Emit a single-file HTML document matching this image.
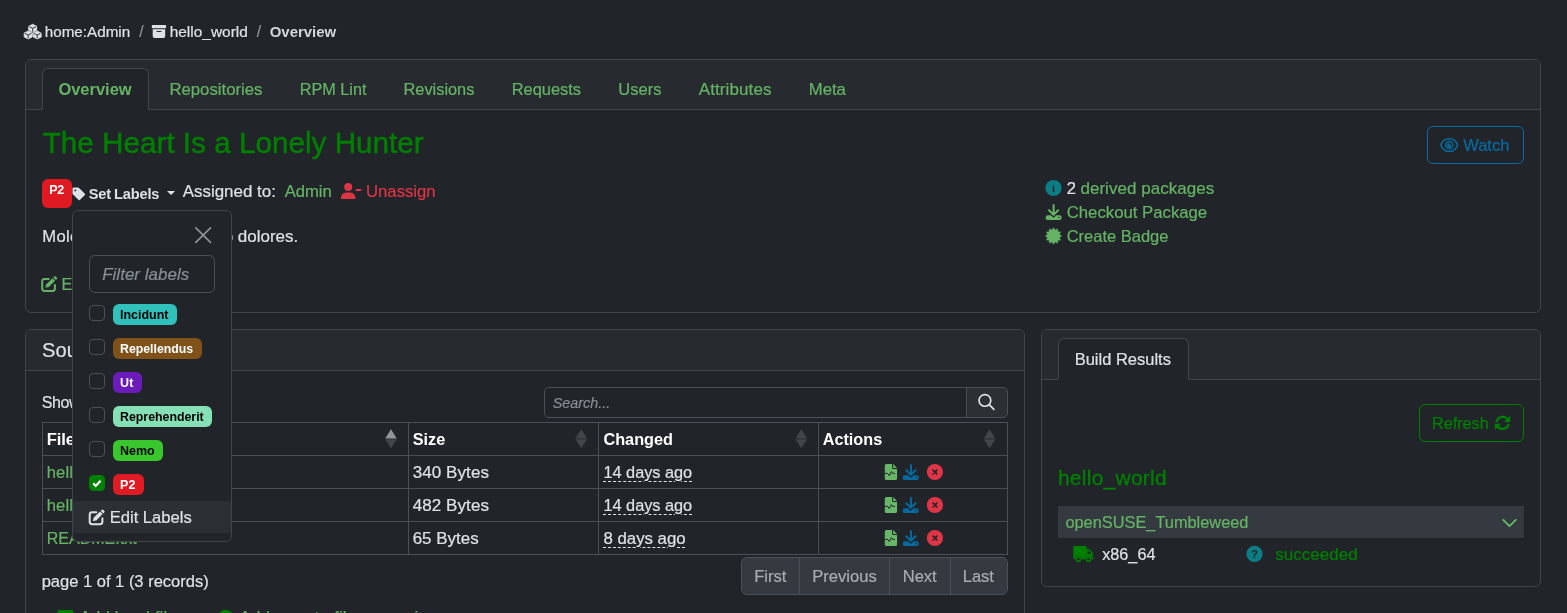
<!DOCTYPE html>
<html lang="en"><head><meta charset="utf-8"><title>hello_world - Overview</title>
<style>
html,body{margin:0;padding:0;background:#212529;}
body{width:1567px;height:613px;overflow:hidden;position:relative;font-family:"Liberation Sans",sans-serif;color:#dee2e6;}
#root{position:absolute;left:0;top:0;width:1567px;height:613px;overflow:hidden;background:#212529;}
.t{position:absolute;white-space:nowrap;line-height:1;margin:0;padding:0;font-weight:400;text-decoration:none;display:block;}
.r{-webkit-text-stroke:0.2px;}
.abbr{text-decoration:underline dashed;text-decoration-thickness:1px;text-underline-offset:3px;}
.b{position:absolute;box-sizing:border-box;}
.card{border:1px solid #42464a;border-radius:6px;background:#212529;}
.cap{background:#272b2f;border-bottom:1px solid #42464a;border-radius:5px 5px 0 0;}
.tab{border:1px solid #42464a;border-bottom:1px solid #212529;border-radius:6px 6px 0 0;background:#212529;}
.line{position:absolute;background:#495057;}
.cb{border:1px solid #495057;border-radius:4px;background:#212529;width:16px;height:16px;}
.bd{border-radius:6px;height:21px;}
svg{position:absolute;overflow:visible;}
</style></head><body><div id="root">
<div class="b card" style="left:25px;top:59px;width:1516px;height:254px;"></div>
<div class="b cap" style="left:26px;top:60px;width:1514px;height:50px;"></div>
<div class="b tab" style="left:42px;top:68px;width:107px;height:42px;"></div>
<div class="b card" style="left:25px;top:329px;width:1000px;height:320px;"></div>
<div class="b cap" style="left:26px;top:330px;width:998px;height:41px;"></div>
<div class="b card" style="left:1041px;top:329px;width:500px;height:258px;"></div>
<div class="b cap" style="left:1042px;top:330px;width:498px;height:50px;"></div>
<div class="b tab" style="left:1058px;top:338px;width:131px;height:42px;"></div>
<div class="b " style="left:42px;top:179px;width:30px;height:29px;background:#e01a22;border-radius:6px;"></div>
<div class="b " style="left:1427px;top:126px;width:97px;height:38px;border:1px solid #086ba3;border-radius:6px;"></div>
<div class="b " style="left:1419px;top:404px;width:105px;height:38px;border:1px solid #008000;border-radius:6px;"></div>
<div class="b " style="left:544px;top:387px;width:424px;height:31px;border:1px solid #495057;border-radius:5px 0 0 5px;"></div>
<div class="b " style="left:966px;top:387px;width:42px;height:31px;border:1px solid #495057;border-radius:0 5px 5px 0;background:#2b3035;"></div>
<div class="line" style="left:42px;top:422px;width:966px;height:1px;background:#495057"></div>
<div class="line" style="left:42px;top:455px;width:966px;height:1px;background:#495057"></div>
<div class="line" style="left:42px;top:488px;width:966px;height:1px;background:#495057"></div>
<div class="line" style="left:42px;top:521px;width:966px;height:1px;background:#495057"></div>
<div class="line" style="left:42px;top:554px;width:966px;height:1px;background:#495057"></div>
<div class="line" style="left:42px;top:422px;width:1px;height:133px;background:#495057"></div>
<div class="line" style="left:408px;top:422px;width:1px;height:133px;background:#495057"></div>
<div class="line" style="left:598px;top:422px;width:1px;height:133px;background:#495057"></div>
<div class="line" style="left:818px;top:422px;width:1px;height:133px;background:#495057"></div>
<div class="line" style="left:1007px;top:422px;width:1px;height:133px;background:#495057"></div>
<div class="b " style="left:741px;top:557px;width:267px;height:38px;border:1px solid #495057;border-radius:6px;background:#343a40;"></div>
<div class="line" style="left:799px;top:558px;width:1px;height:36px;background:#495057"></div>
<div class="line" style="left:889px;top:558px;width:1px;height:36px;background:#495057"></div>
<div class="line" style="left:950px;top:558px;width:1px;height:36px;background:#495057"></div>
<div class="b " style="left:1058px;top:506px;width:466px;height:32px;background:#343a40;"></div>
<span class="t r" style="left:44.70px;top:24.02px;font-size:15.24px;color:#dee2e6;letter-spacing:-0.003px;">home:Admin</span>
<span class="t r" style="left:139.30px;top:24.02px;font-size:15.6px;color:#8d949b;">/</span>
<span class="t r" style="left:169.70px;top:24.02px;font-size:15.44px;color:#dee2e6;letter-spacing:0.001px;">hello_world</span>
<span class="t r" style="left:256.70px;top:24.02px;font-size:15.6px;color:#8d949b;">/</span>
<span class="t" style="left:269.70px;top:25.02px;font-size:14.96px;color:#d3d7db;font-weight:700;letter-spacing:-0.002px;">Overview</span>
<a class="t" style="left:58.40px;top:81.02px;font-size:16.47px;color:#66b366;font-weight:700;letter-spacing:0.004px;">Overview</a>
<a class="t r" style="left:169.40px;top:82.02px;font-size:16.76px;color:#66b366;letter-spacing:-0.001px;">Repositories</a>
<a class="t r" style="left:299.80px;top:81.02px;font-size:16.23px;color:#66b366;letter-spacing:-0.000px;">RPM Lint</a>
<a class="t r" style="left:403.50px;top:81.02px;font-size:16.37px;color:#66b366;letter-spacing:-0.003px;">Revisions</a>
<a class="t r" style="left:511.70px;top:81.02px;font-size:16.44px;color:#66b366;letter-spacing:-0.008px;">Requests</a>
<a class="t r" style="left:618.30px;top:82.02px;font-size:16.52px;color:#66b366;letter-spacing:-0.010px;">Users</a>
<a class="t r" style="left:698.70px;top:81.02px;font-size:17.0px;color:#66b366;letter-spacing:0.110px;">Attributes</a>
<a class="t r" style="left:808.70px;top:82.02px;font-size:16.74px;color:#66b366;letter-spacing:-0.001px;">Meta</a>
<h3 class="t" style="left:42.70px;top:128.02px;font-size:29.68px;color:#008000;letter-spacing:0.001px;-webkit-text-stroke:0.4px #008000;">The Heart Is a Lonely Hunter</h3>
<span class="t" style="left:49.20px;top:184.02px;font-size:12.48px;color:#fff;font-weight:700;letter-spacing:-0.266px;">P2</span>
<span class="t" style="left:88.70px;top:187.02px;font-size:14.6px;color:#dee2e6;font-weight:700;letter-spacing:-0.156px;word-spacing:-0.8px;">Set Labels</span>
<span class="t r" style="left:182.70px;top:184.02px;font-size:16.96px;color:#dee2e6;letter-spacing:0.003px;">Assigned to:</span>
<a class="t r" style="left:284.70px;top:184.02px;font-size:16.6px;color:#66b366;letter-spacing:-0.012px;">Admin</a>
<a class="t r" style="left:365.95px;top:184.02px;font-size:16.75px;color:#dc3545;letter-spacing:-0.013px;">Unassign</a>
<span class="t r" style="left:42.20px;top:229.02px;font-size:16.64px;color:#dee2e6;letter-spacing:0.350px;">Molestiae aut explicab</span>
<span class="t r" style="left:223.70px;top:228.02px;font-size:17.0px;color:#dee2e6;letter-spacing:-0.008px;">o dolores.</span>
<a class="t r" style="left:61.60px;top:277.02px;font-size:16.0px;color:#66b366;">Edit</a>
<span class="t r" style="left:1066.70px;top:181.02px;font-size:16.64px;color:#dee2e6;">2</span>
<a class="t r" style="left:1080.45px;top:180.02px;font-size:17.0px;color:#66b366;letter-spacing:0.032px;">derived packages</a>
<a class="t r" style="left:1066.70px;top:205.02px;font-size:16.75px;color:#66b366;letter-spacing:-0.007px;">Checkout Package</a>
<a class="t r" style="left:1066.70px;top:228.02px;font-size:16.5px;color:#66b366;letter-spacing:-0.007px;">Create Badge</a>
<a class="t r" style="left:1463.20px;top:138.02px;font-size:16.55px;color:#086ba3;">Watch</a>
<h5 class="t r" style="left:42.00px;top:340.02px;font-size:20.07px;color:#dee2e6;letter-spacing:0.100px;">Source Files</h5>
<span class="t r" style="left:41.70px;top:395.02px;font-size:16.0px;color:#dee2e6;letter-spacing:-0.400px;">Show</span>
<span class="t r" style="left:552.70px;top:396.02px;font-size:14.38px;color:#878e95;font-style:italic;letter-spacing:-0.004px;">Search...</span>
<b class="t" style="left:46.70px;top:432.02px;font-size:16.64px;color:#fff;font-weight:700;letter-spacing:-0.100px;">File</b>
<b class="t" style="left:412.70px;top:431.02px;font-size:16.25px;color:#fff;font-weight:700;letter-spacing:-0.010px;">Size</b>
<b class="t" style="left:603.45px;top:431.02px;font-size:16.26px;color:#fff;font-weight:700;letter-spacing:-0.003px;">Changed</b>
<b class="t" style="left:822.70px;top:431.02px;font-size:16.24px;color:#fff;font-weight:700;letter-spacing:-0.008px;">Actions</b>
<a class="t r" style="left:46.70px;top:465.02px;font-size:16.64px;color:#66b366;letter-spacing:0.100px;">hello_world.spec</a>
<span class="t r" style="left:412.70px;top:464.02px;font-size:17.0px;color:#dee2e6;letter-spacing:0.080px;">340 Bytes</span>
<span class="t abbr r" style="left:603.45px;top:464.02px;font-size:16.3px;color:#dee2e6;letter-spacing:0.003px;">14 days ago</span>
<a class="t r" style="left:46.70px;top:498.02px;font-size:16.64px;color:#66b366;letter-spacing:0.100px;">hello_world.tar.gz</a>
<span class="t r" style="left:412.70px;top:497.02px;font-size:17.0px;color:#dee2e6;letter-spacing:0.080px;">482 Bytes</span>
<span class="t abbr r" style="left:603.45px;top:497.02px;font-size:16.3px;color:#dee2e6;letter-spacing:0.003px;">14 days ago</span>
<a class="t r" style="left:46.70px;top:530.02px;font-size:16.05px;color:#66b366;letter-spacing:0.003px;">README.txt</a>
<span class="t r" style="left:412.70px;top:531.02px;font-size:16.97px;color:#dee2e6;letter-spacing:0.013px;">65 Bytes</span>
<span class="t abbr r" style="left:603.45px;top:531.02px;font-size:16.83px;color:#dee2e6;letter-spacing:-0.010px;">8 days ago</span>
<span class="t r" style="left:41.70px;top:574.02px;font-size:16.52px;color:#dee2e6;letter-spacing:-0.004px;">page 1 of 1 (3 records)</span>
<span class="t r" style="left:754.20px;top:569.02px;font-size:16.6px;color:#a9adb2;letter-spacing:-0.004px;">First</span>
<span class="t r" style="left:812.20px;top:569.02px;font-size:16.59px;color:#a9adb2;">Previous</span>
<span class="t r" style="left:902.70px;top:569.02px;font-size:16.55px;color:#a9adb2;">Next</span>
<span class="t r" style="left:962.70px;top:569.02px;font-size:16.54px;color:#a9adb2;">Last</span>
<a class="t r" style="left:79.70px;top:610.02px;font-size:16.64px;color:#66b366;letter-spacing:0.200px;">Add local files</a>
<a class="t r" style="left:239.40px;top:609.02px;font-size:17.0px;color:#66b366;letter-spacing:0.182px;">Add remote file or service</a>
<span class="t r" style="left:1074.70px;top:351.02px;font-size:16.51px;color:#dee2e6;letter-spacing:-0.004px;">Build Results</span>
<span class="t r" style="left:1432.10px;top:415.02px;font-size:16.18px;color:#008000;letter-spacing:-0.007px;">Refresh</span>
<h5 class="t" style="left:1057.95px;top:467.02px;font-size:21.0px;color:#008000;letter-spacing:0.252px;-webkit-text-stroke:0.3px #008000;">hello_world</h5>
<a class="t r" style="left:1065.45px;top:514.02px;font-size:16.36px;color:#66b366;letter-spacing:-0.005px;">openSUSE_Tumbleweed</a>
<span class="t r" style="left:1102.20px;top:546.02px;font-size:16.24px;color:#dee2e6;letter-spacing:-0.003px;">x86_64</span>
<span class="t r" style="left:1275.20px;top:546.02px;font-size:17.0px;color:#008000;letter-spacing:0.033px;">succeeded</span><svg style="left:0;top:0" width="1567" height="613" viewBox="0 0 1567 613"><polygon points="32.70,24.30 36.70,26.30 36.70,30.30 32.70,32.30 28.70,30.30 28.70,26.30" fill="#dee2e6" stroke="#dee2e6" stroke-width="0.8" stroke-linejoin="round"/><path d="M32.70 31.70V28.30L29.40 26.70M32.70 28.30L36.00 26.70" stroke="#212529" stroke-width="0.9" fill="none"/><polygon points="28.20,31.00 32.20,33.00 32.20,37.00 28.20,39.00 24.20,37.00 24.20,33.00" fill="#dee2e6" stroke="#dee2e6" stroke-width="0.8" stroke-linejoin="round"/><path d="M28.20 38.40V35.00L24.90 33.40M28.20 35.00L31.50 33.40" stroke="#212529" stroke-width="0.9" fill="none"/><polygon points="37.20,31.00 41.20,33.00 41.20,37.00 37.20,39.00 33.20,37.00 33.20,33.00" fill="#dee2e6" stroke="#dee2e6" stroke-width="0.8" stroke-linejoin="round"/><path d="M37.20 38.40V35.00L33.90 33.40M37.20 35.00L40.50 33.40" stroke="#212529" stroke-width="0.9" fill="none"/><rect x="151.8" y="25.0" width="14.3" height="3.3" rx="0.8" fill="#dee2e6"/><path d="M152.70000000000002 29.2h12.5v7.1a1.7 1.7 0 0 1 -1.7 1.7h-9.1a1.7 1.7 0 0 1 -1.7 -1.7z" fill="#dee2e6"/><rect x="156.4" y="30.9" width="5.1" height="1.2" rx="0.6" fill="#212529"/><path d="M72.5 188.7a1.1 1.1 0 0 1 1.1 -1.1h4.6a1.2 1.2 0 0 1 .85 .35l5.6 5.6a1.2 1.2 0 0 1 0 1.7l-4.6 4.6a1.2 1.2 0 0 1 -1.7 0l-5.5 -5.5a1.2 1.2 0 0 1 -.35 -.85z" fill="#dee2e6"/><circle cx="75.3" cy="190.4" r="0.95" fill="#212529"/><path d="M167.0 191.0H175.1L171.05 195.1z" fill="#dee2e6"/><circle cx="348.2" cy="187" r="4.0" fill="#dc3545"/><path d="M341 198.9v-1.3a5.2 5.2 0 0 1 5.2 -5.2h4a5.2 5.2 0 0 1 5.2 5.2v1.3z" fill="#dc3545"/><rect x="355.6" y="189" width="5.7" height="1.9" rx="0.4" fill="#dc3545"/><path d="M48.800000000000004 278.90000000000003H44.6a2.4 2.4 0 0 0 -2.4 2.4v7.2a2.4 2.4 0 0 0 2.4 2.4h7.9a2.4 2.4 0 0 0 2.4 -2.4V284.90000000000003" fill="none" stroke="#66b366" stroke-width="2" stroke-linecap="round"/><path d="M45.300000000000004 287.8l.9 -3.3 6.3 -6.3 2.6 2.6 -6.3 6.3z" fill="#66b366"/><path d="M53.2 277.5l.9 -.9a1.3 1.3 0 0 1 1.8 0l.8 .8a1.3 1.3 0 0 1 0 1.8l-.9 .9z" fill="#66b366"/><circle cx="1053.5" cy="188.0" r="8.1" fill="#0c7d85"/><text x="1053.5" y="191.8" text-anchor="middle" font-family='"Liberation Serif",serif' font-weight="700" font-size="11" fill="#212529">i</text><path d="M1053.6 205.1V214.5M1049.0 210.2L1053.6 214.9L1058.1999999999998 210.2" stroke="#66b366" stroke-width="2.0" fill="none" stroke-linecap="round" stroke-linejoin="round"/><path d="M1045.6 217.2a2 2 0 0 1 2 -2h3.2l2.8 2.6 2.8 -2.6h3.2a2 2 0 0 1 2 2v.8a2 2 0 0 1 -2 2h-12.0a2 2 0 0 1 -2 -2z" fill="#66b366"/><circle cx="1059.0" cy="217.6" r="0.75" fill="#212529"/><polygon points="1053.50,227.80 1055.08,230.11 1057.60,228.90 1057.81,231.69 1060.60,231.90 1059.39,234.42 1061.70,236.00 1059.39,237.58 1060.60,240.10 1057.81,240.31 1057.60,243.10 1055.08,241.89 1053.50,244.20 1051.92,241.89 1049.40,243.10 1049.19,240.31 1046.40,240.10 1047.61,237.58 1045.30,236.00 1047.61,234.42 1046.40,231.90 1049.19,231.69 1049.40,228.90 1051.92,230.11" fill="#66b366" stroke="#66b366" stroke-width="0.5" stroke-linejoin="round"/><path d="M1440.8 145.0C1443.7 136.6 1454.7 136.6 1457.6000000000001 145.0C1454.7 153.4 1443.7 153.4 1440.8 145.0z" fill="none" stroke="#086ba3" stroke-width="1.5"/><circle cx="1449.2" cy="145.0" r="3.5" fill="none" stroke="#086ba3" stroke-width="1.5"/><path d="M1447.3 145.2a1.9 1.9 0 0 1 1.9 -2.1a1.2 1.2 0 0 0 1.4 1.5a1.9 1.9 0 1 1 -3.3 .6z" fill="#086ba3"/><circle cx="984.9" cy="400.4" r="5.85" fill="none" stroke="#dee2e6" stroke-width="1.7"/><path d="M989.2 404.7L993.9 409.4" stroke="#dee2e6" stroke-width="1.8" stroke-linecap="round"/><path d="M385.2 438.4H396.8L391.0 429.3z" fill="#92969a"/><path d="M385.2 439.2H396.8L391.0 448.3z" fill="#42464a"/><path d="M575.5 438.4H587.1L581.3 429.3z" fill="#42464a"/><path d="M575.5 439.2H587.1L581.3 448.3z" fill="#42464a"/><path d="M795.5 438.4H807.1L801.3 429.3z" fill="#42464a"/><path d="M795.5 439.2H807.1L801.3 448.3z" fill="#42464a"/><path d="M983.8 438.4H995.4L989.5999999999999 429.3z" fill="#42464a"/><path d="M983.8 439.2H995.4L989.5999999999999 448.3z" fill="#42464a"/><path d="M886.5 463.9h5.6v4.0a1 1 0 0 0 1 1h4.0v9.5a1.7 1.7 0 0 1 -1.7 1.7h-8.9a1.7 1.7 0 0 1 -1.7 -1.7v-12.8a1.7 1.7 0 0 1 1.7 -1.7z" fill="#68b668"/><path d="M893.0999999999999 464.0l3.9 3.9h-3.9z" fill="#68b668"/><path d="M884.8 473.4h2.9l1.6 2.2 2.1 -4 1.2 1.8h2.3" fill="none" stroke="#212529" stroke-width="1" stroke-linejoin="round"/><path d="M910.9 465.09999999999997V474.49999999999994M906.3 470.2L910.9 474.9L915.5 470.2" stroke="#066aa1" stroke-width="2.0" fill="none" stroke-linecap="round" stroke-linejoin="round"/><path d="M902.8 477.2a2 2 0 0 1 2 -2h3.2l2.8 2.6 2.8 -2.6h3.2a2 2 0 0 1 2 2v.8a2 2 0 0 1 -2 2h-12.2a2 2 0 0 1 -2 -2z" fill="#066aa1"/><circle cx="916.3" cy="477.59999999999997" r="0.75" fill="#212529"/><circle cx="934.9" cy="472.0" r="8.1" fill="#e03547"/><path d="M933.0 470.1l3.8 3.8M936.8 470.1l-3.8 3.8" stroke="#212529" stroke-width="1.6" stroke-linecap="round"/><path d="M886.5 496.9h5.6v4.0a1 1 0 0 0 1 1h4.0v9.5a1.7 1.7 0 0 1 -1.7 1.7h-8.9a1.7 1.7 0 0 1 -1.7 -1.7v-12.8a1.7 1.7 0 0 1 1.7 -1.7z" fill="#68b668"/><path d="M893.0999999999999 497.0l3.9 3.9h-3.9z" fill="#68b668"/><path d="M884.8 506.4h2.9l1.6 2.2 2.1 -4 1.2 1.8h2.3" fill="none" stroke="#212529" stroke-width="1" stroke-linejoin="round"/><path d="M910.9 498.09999999999997V507.49999999999994M906.3 503.2L910.9 507.9L915.5 503.2" stroke="#066aa1" stroke-width="2.0" fill="none" stroke-linecap="round" stroke-linejoin="round"/><path d="M902.8 510.2a2 2 0 0 1 2 -2h3.2l2.8 2.6 2.8 -2.6h3.2a2 2 0 0 1 2 2v.8a2 2 0 0 1 -2 2h-12.2a2 2 0 0 1 -2 -2z" fill="#066aa1"/><circle cx="916.3" cy="510.59999999999997" r="0.75" fill="#212529"/><circle cx="934.9" cy="505.0" r="8.1" fill="#e03547"/><path d="M933.0 503.1l3.8 3.8M936.8 503.1l-3.8 3.8" stroke="#212529" stroke-width="1.6" stroke-linecap="round"/><path d="M886.5 529.9h5.6v4.0a1 1 0 0 0 1 1h4.0v9.5a1.7 1.7 0 0 1 -1.7 1.7h-8.9a1.7 1.7 0 0 1 -1.7 -1.7v-12.8a1.7 1.7 0 0 1 1.7 -1.7z" fill="#68b668"/><path d="M893.0999999999999 530.0l3.9 3.9h-3.9z" fill="#68b668"/><path d="M884.8 539.4h2.9l1.6 2.2 2.1 -4 1.2 1.8h2.3" fill="none" stroke="#212529" stroke-width="1" stroke-linejoin="round"/><path d="M910.9 531.1V540.5M906.3 536.2L910.9 540.9L915.5 536.2" stroke="#066aa1" stroke-width="2.0" fill="none" stroke-linecap="round" stroke-linejoin="round"/><path d="M902.8 543.2a2 2 0 0 1 2 -2h3.2l2.8 2.6 2.8 -2.6h3.2a2 2 0 0 1 2 2v.8a2 2 0 0 1 -2 2h-12.2a2 2 0 0 1 -2 -2z" fill="#066aa1"/><circle cx="916.3" cy="543.6" r="0.75" fill="#212529"/><circle cx="934.9" cy="538.0" r="8.1" fill="#e03547"/><path d="M933.0 536.1l3.8 3.8M936.8 536.1l-3.8 3.8" stroke="#212529" stroke-width="1.6" stroke-linecap="round"/><path d="M1496.56 422.06A6.0 6.0 0 0 1 1507.59 419.72" fill="none" stroke="#008000" stroke-width="2.3"/><path d="M1508.44 423.74A6.0 6.0 0 0 1 1497.41 426.08" fill="none" stroke="#008000" stroke-width="2.3"/><path d="M1510.2 415.79999999999995v6.2h-6.2z" fill="#008000"/><path d="M1494.8 430.0v-6.2h6.2z" fill="#008000"/><path d="M1503.2 519.8L1509.5 526.2L1515.8 519.8" fill="none" stroke="#66bb66" stroke-width="1.8" stroke-linecap="round" stroke-linejoin="round"/><path d="M1074.4 545.9H1085.4a1.1 1.1 0 0 1 1.1 1.1V549.3H1089.3a1.2 1.2 0 0 1 .9 .4L1092.3 552a1.2 1.2 0 0 1 .35 .85V557.2H1093a.45 .45 0 0 1 .45 .45V558.7a.45 .45 0 0 1 -.45 .45H1074.4a1.1 1.1 0 0 1 -1.1 -1.1V547a1.1 1.1 0 0 1 1.1 -1.1z" fill="#008000"/><path d="M1087.4 550.9H1089.1L1091.2 553.2V553.8H1087.4z" fill="#212529"/><circle cx="1078.4" cy="559.2" r="3.3" fill="#212529"/><circle cx="1078.4" cy="559.2" r="2.85" fill="#008000"/><circle cx="1078.4" cy="559.2" r="1.25" fill="#212529"/><circle cx="1088.5" cy="559.2" r="3.3" fill="#212529"/><circle cx="1088.5" cy="559.2" r="2.85" fill="#008000"/><circle cx="1088.5" cy="559.2" r="1.25" fill="#212529"/><circle cx="1254.5" cy="553.9" r="8.1" fill="#0c7d85"/><text x="1254.5" y="558.0" text-anchor="middle" font-family='"Liberation Sans",sans-serif' font-weight="700" font-size="11.5" fill="#212529">?</text><rect x="57.4" y="610" width="16" height="16" rx="2" fill="#008000"/><circle cx="225.6" cy="617.8" r="8" fill="#008000"/></svg>
<div class="b " style="left:72px;top:210px;width:160px;height:332px;border:1px solid #42464a;border-radius:6px;background:#212529;"></div>
<div class="b " style="left:73px;top:501px;width:158px;height:32px;background:#2b3035;"></div>
<div class="b " style="left:89px;top:255px;width:126px;height:38px;border:1px solid #495057;border-radius:6px;"></div>
<div class="b cb" style="left:89px;top:305px;width:16px;height:16px;"></div>
<div class="b cb" style="left:89px;top:339px;width:16px;height:16px;"></div>
<div class="b cb" style="left:89px;top:373px;width:16px;height:16px;"></div>
<div class="b cb" style="left:89px;top:407px;width:16px;height:16px;"></div>
<div class="b cb" style="left:89px;top:441px;width:16px;height:16px;"></div>
<div class="b cb" style="left:89px;top:475px;width:16px;height:16px;background:#008000;border-color:#008000;"></div>
<div class="b bd" style="left:113px;top:304px;width:64px;height:21px;background:#2fc1ba;"></div>
<div class="b bd" style="left:113px;top:338px;width:88.75px;height:21px;background:#80521a;"></div>
<div class="b bd" style="left:113px;top:372px;width:28.75px;height:21px;background:#6a1bb9;"></div>
<div class="b bd" style="left:113px;top:406px;width:99px;height:21px;background:#86e0b5;"></div>
<div class="b bd" style="left:113px;top:440px;width:50px;height:21px;background:#3ac72e;"></div>
<div class="b bd" style="left:113px;top:474px;width:30.75px;height:21px;background:#e01b24;"></div>
<span class="t dd r" style="left:102.20px;top:266.02px;font-size:17.0px;color:#878e95;font-style:italic;letter-spacing:0.007px;">Filter labels</span>
<span class="t dd" style="left:120.00px;top:309.02px;font-size:12.47px;color:#000;font-weight:700;letter-spacing:-0.005px;">Incidunt</span>
<span class="t dd" style="left:120.00px;top:343.02px;font-size:12.32px;color:#fff;font-weight:700;letter-spacing:-0.002px;">Repellendus</span>
<span class="t dd" style="left:120.00px;top:377.02px;font-size:12.48px;color:#fff;font-weight:700;letter-spacing:0.278px;">Ut</span>
<span class="t dd" style="left:120.00px;top:411.02px;font-size:12.36px;color:#000;font-weight:700;letter-spacing:-0.008px;">Reprehenderit</span>
<span class="t dd" style="left:120.00px;top:445.02px;font-size:12.5px;color:#000;font-weight:700;letter-spacing:-0.011px;">Nemo</span>
<span class="t dd" style="left:120.00px;top:479.02px;font-size:12.48px;color:#fff;font-weight:700;letter-spacing:0.184px;">P2</span>
<a class="t dd r" style="left:109.70px;top:510.02px;font-size:16.59px;color:#dee2e6;letter-spacing:-0.003px;">Edit Labels</a><svg style="left:0;top:0" width="1567" height="613" viewBox="0 0 1567 613"><path d="M195.3 227.4L211 242.8M211 227.4L195.3 242.8" stroke="#8e9195" stroke-width="1.7" fill="none"/><path d="M93.2 483.4l2.5 2.5 4.9 -5.2" stroke="#fff" stroke-width="2.2" fill="none" stroke-linecap="butt"/><path d="M96.3 512.1999999999999H92.10000000000001a2.4 2.4 0 0 0 -2.4 2.4v7.2a2.4 2.4 0 0 0 2.4 2.4h7.9a2.4 2.4 0 0 0 2.4 -2.4V518.1999999999999" fill="none" stroke="#dee2e6" stroke-width="2" stroke-linecap="round"/><path d="M92.8 521.1l.9 -3.3 6.3 -6.3 2.6 2.6 -6.3 6.3z" fill="#dee2e6"/><path d="M100.7 510.79999999999995l.9 -.9a1.3 1.3 0 0 1 1.8 0l.8 .8a1.3 1.3 0 0 1 0 1.8l-.9 .9z" fill="#dee2e6"/></svg>
</div></body></html>
